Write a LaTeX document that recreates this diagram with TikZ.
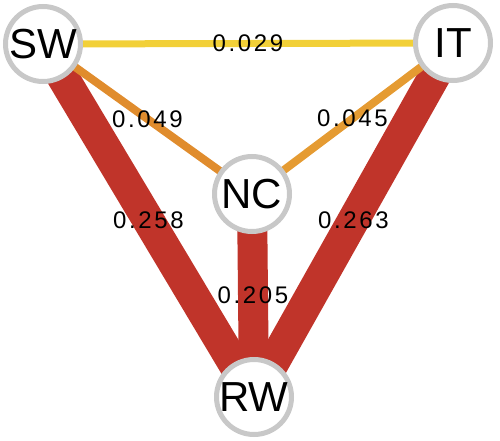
\documentclass[tikz,border=0pt]{standalone}
\usepackage{fontspec}
\setmainfont{Liberation Sans}
\usetikzlibrary{backgrounds}
\definecolor{edgeyellow}{RGB}{242,208,56}
\definecolor{edgeorangeA}{RGB}{224,140,45}
\definecolor{edgeorangeB}{RGB}{229,155,50}
\definecolor{edgered}{RGB}{192,52,42}
\definecolor{nodegrey}{RGB}{200,200,200}
\begin{document}
\begin{tikzpicture}[x=1pt,y=-1pt,
  vert/.style={circle,draw=nodegrey,line width=5pt,fill=white,minimum size=75pt,inner sep=0pt,text=black,font=\fontsize{42}{42}\selectfont},
  wlabel/.style={inner sep=0pt,text=black,font=\fontsize{24}{24}\selectfont\addfontfeature{LetterSpace=11}},
  ]
\useasboundingbox (0,0) rectangle (500,441);
\node[vert] (sw) at (43,44) {SW};
\node[vert] (it) at (453,43) {IT};
\node[vert] (nc) at (252,194) {NC};
\node[vert] (rw) at (254,397) {RW};
\begin{scope}[on background layer]
\draw[edgered,line width=32pt] (sw.center) -- node[wlabel,midway] (lswrw) {0.258} (rw.center);
\draw[edgered,line width=32pt] (it.center) -- node[wlabel,midway] (litrw) {0.263} (rw.center);
\draw[edgered,line width=30pt] (nc.center) -- node[wlabel,midway] (lncrw) {0.205} (rw.center);
\draw[edgeyellow,line width=7pt] (sw.center) -- node[wlabel,midway] (lswit) {0.029} (it.center);
\draw[edgeorangeA,line width=8pt] (sw.center) -- node[wlabel,midway] (lswnc) {0.049} (nc.center);
\draw[edgeorangeB,line width=8pt] (it.center) -- node[wlabel,midway] (litnc) {0.045} (nc.center);
\end{scope}
\end{tikzpicture}
\end{document}
